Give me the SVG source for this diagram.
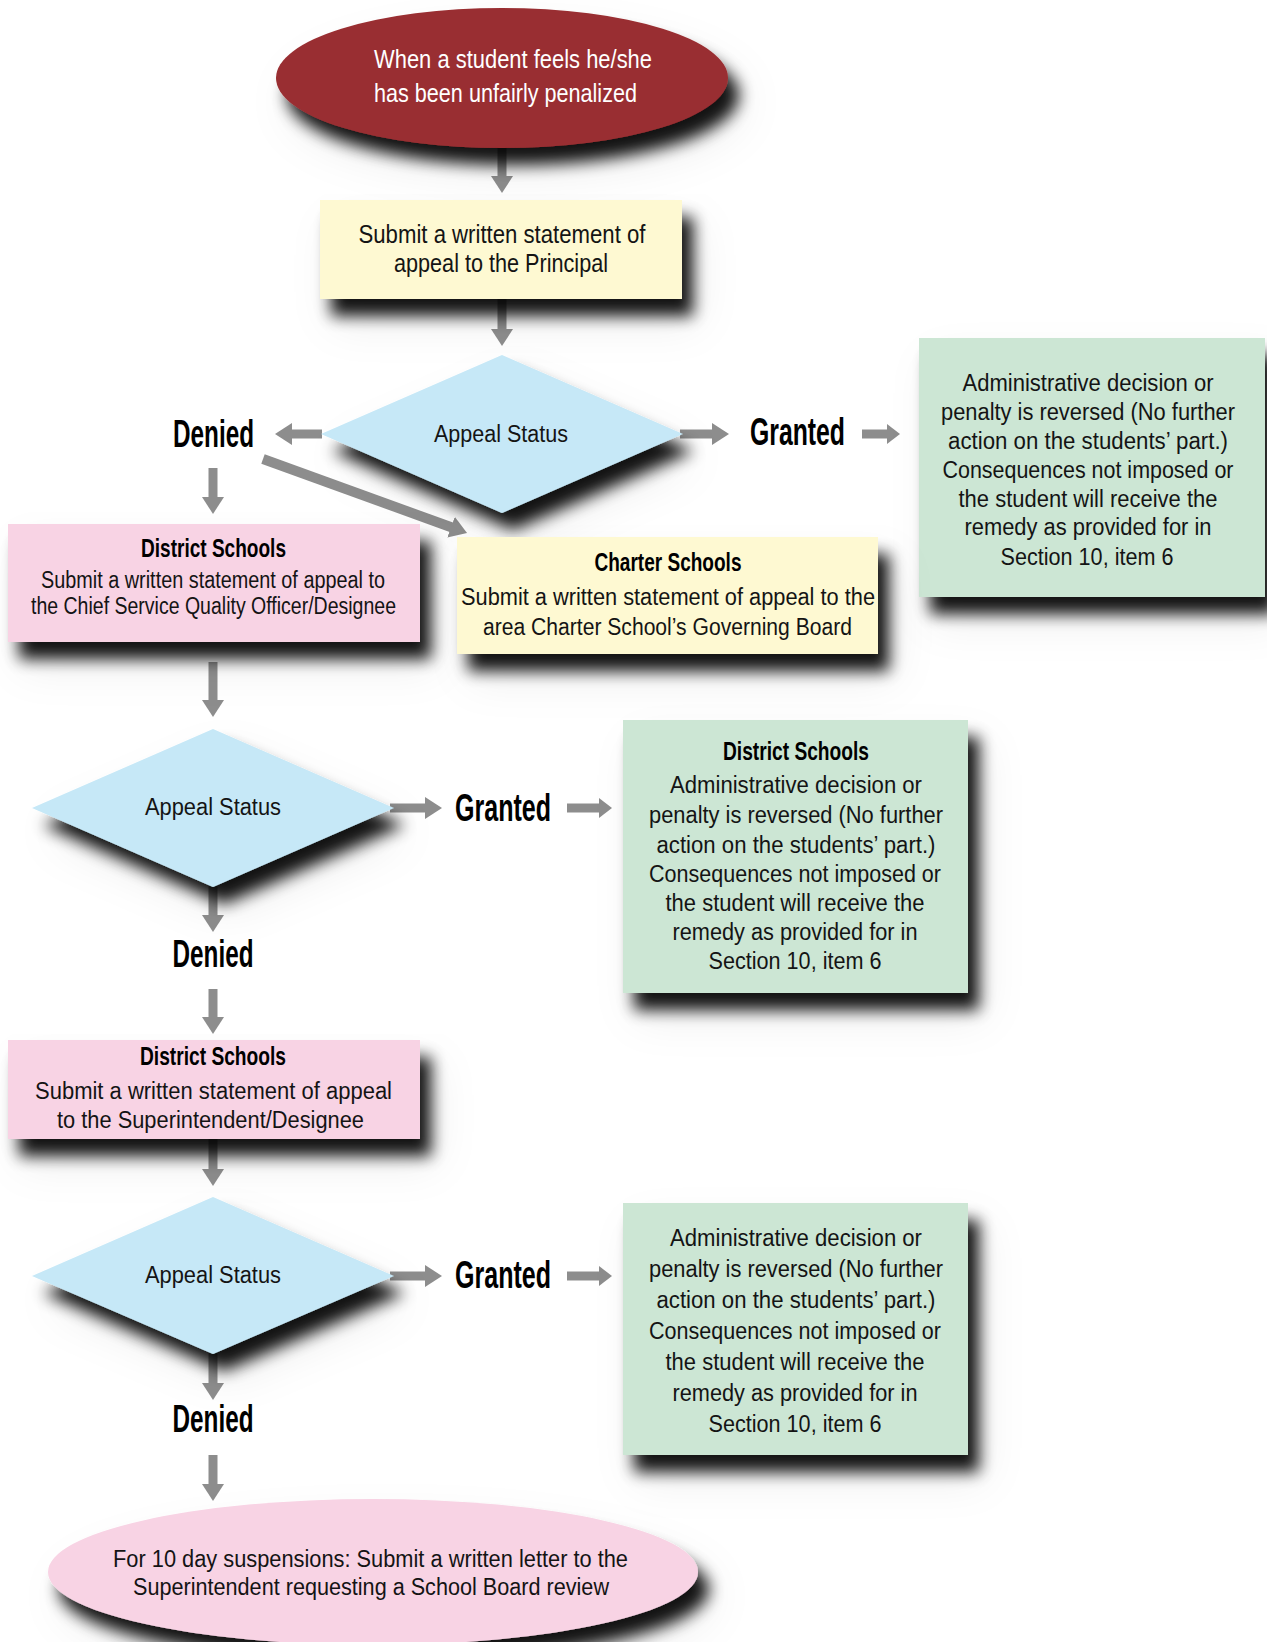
<svg xmlns="http://www.w3.org/2000/svg" width="1267" height="1642" viewBox="0 0 1267 1642">
  <defs>
    <!-- heavy lower-right drop shadow plus a faint wide haze -->
    <filter id="shadow" x="-20%" y="-30%" width="150%" height="200%">
      <feGaussianBlur in="SourceAlpha" stdDeviation="8" result="b"/>
      <feOffset in="b" dx="11" dy="17" result="o"/>
      <feFlood flood-color="#000" flood-opacity="0.92"/>
      <feComposite in2="o" operator="in" result="s"/>
      <feGaussianBlur in="SourceAlpha" stdDeviation="22" result="b2"/>
      <feOffset in="b2" dx="14" dy="24" result="o2"/>
      <feFlood flood-color="#000" flood-opacity="0.08"/>
      <feComposite in2="o2" operator="in" result="h"/>
      <feMerge>
        <feMergeNode in="h"/>
        <feMergeNode in="s"/>
        <feMergeNode in="SourceGraphic"/>
      </feMerge>
    </filter>
    <marker id="head" viewBox="0 0 17 22" markerWidth="17" markerHeight="22" refX="1" refY="11" orient="auto" markerUnits="userSpaceOnUse">
      <path d="M0,0 L17,11 L0,22 Z" fill="#8d8d8d"/>
    </marker>
    <marker id="headS" viewBox="0 0 13 20" markerWidth="13" markerHeight="20" refX="1" refY="10" orient="auto" markerUnits="userSpaceOnUse">
      <path d="M0,0 L13,10 L0,20 Z" fill="#8d8d8d"/>
    </marker>
  </defs>
  <style>
    .arrow { stroke: #8d8d8d; stroke-width: 9; fill: none; marker-end: url(#head); }
    .arrow.short { marker-end: url(#headS); }
    .txt { font-family: "Liberation Sans", Arial, sans-serif; font-size: 23px; fill: #141414; text-anchor: middle; }
    .big { font-size: 25px; }
    .white { fill: #ffffff; text-anchor: start; }
    .head { font-family: "Liberation Sans", Arial, sans-serif; font-weight: bold; font-size: 25px; fill: #000; text-anchor: middle; }
    .label { font-family: "Liberation Sans", Arial, sans-serif; font-weight: 900; font-size: 39px; fill: #000; text-anchor: middle; }
    .red { fill: #992e31; }
    .yellow { fill: #fef9d2; }
    .blue { fill: #c6e8f7; }
    .pink { fill: #f8d3e4; }
    .green { fill: #cce6d4; }
  </style>

  <rect width="1267" height="1642" fill="#ffffff"/>

  <g id="connectors">
    <line class="arrow" x1="502" y1="140" x2="502" y2="177"/>
    <line class="arrow" x1="502" y1="295" x2="502" y2="330"/>
    <line class="arrow" x1="322" y1="434" x2="291" y2="434"/>
    <line class="arrow" x1="680" y1="434" x2="713" y2="434"/>
    <line class="arrow short" x1="862" y1="434" x2="888" y2="434"/>
    <line class="arrow" x1="263" y1="459" x2="452" y2="527.5" style="stroke-width:10"/>
    <line class="arrow" x1="213" y1="468" x2="213" y2="498"/>
    <line class="arrow" x1="213" y1="662" x2="213" y2="701"/>
    <line class="arrow" x1="390" y1="808" x2="426" y2="808"/>
    <line class="arrow short" x1="567" y1="808" x2="600" y2="808"/>
    <line class="arrow" x1="213" y1="880" x2="213" y2="916"/>
    <line class="arrow" x1="213" y1="989" x2="213" y2="1018"/>
    <line class="arrow" x1="213" y1="1135" x2="213" y2="1170"/>
    <line class="arrow" x1="390" y1="1276" x2="426" y2="1276"/>
    <line class="arrow short" x1="567" y1="1276" x2="600" y2="1276"/>
    <line class="arrow" x1="213" y1="1350" x2="213" y2="1384"/>
    <line class="arrow" x1="213" y1="1455" x2="213" y2="1485"/>
  </g>

  <g id="start">
    <ellipse class="red" cx="502" cy="78" rx="226" ry="70" filter="url(#shadow)"/>
    <text class="txt big white" x="374" y="68" textLength="278" lengthAdjust="spacingAndGlyphs">When a student feels he/she</text>
    <text class="txt big white" x="374" y="102" textLength="263" lengthAdjust="spacingAndGlyphs">has been unfairly penalized</text>
  </g>

  <g id="principal">
    <rect class="yellow" x="320" y="200" width="362" height="99" filter="url(#shadow)"/>
    <text class="txt big" x="502" y="243" textLength="287" lengthAdjust="spacingAndGlyphs">Submit a written statement of</text>
    <text class="txt big" x="501" y="272" textLength="214" lengthAdjust="spacingAndGlyphs">appeal to the Principal</text>
  </g>

  <g id="status1">
    <polygon class="blue" points="502,355 683,434 502,513 321,434" filter="url(#shadow)"/>
    <text class="txt" x="501" y="442" textLength="134" lengthAdjust="spacingAndGlyphs">Appeal Status</text>
  </g>

  <g id="denied1">
    <text class="label" x="213.5" y="447" textLength="81" lengthAdjust="spacingAndGlyphs">Denied</text>
  </g>

  <g id="granted1">
    <text class="label" x="797.5" y="445" textLength="95" lengthAdjust="spacingAndGlyphs">Granted</text>
  </g>

  <g id="reversed1">
    <rect class="green" x="919" y="338" width="346" height="259" filter="url(#shadow)"/>
    <text class="txt" x="1088" y="391" textLength="251" lengthAdjust="spacingAndGlyphs">Administrative decision or</text>
    <text class="txt" x="1088" y="420" textLength="294" lengthAdjust="spacingAndGlyphs">penalty is reversed (No further</text>
    <text class="txt" x="1088" y="449" textLength="280" lengthAdjust="spacingAndGlyphs">action on the students’ part.)</text>
    <text class="txt" x="1088" y="478" textLength="291" lengthAdjust="spacingAndGlyphs">Consequences not imposed or</text>
    <text class="txt" x="1088" y="507" textLength="259" lengthAdjust="spacingAndGlyphs">the student will receive the</text>
    <text class="txt" x="1088" y="535" textLength="247" lengthAdjust="spacingAndGlyphs">remedy as provided for in</text>
    <text class="txt" x="1087" y="565" textLength="173" lengthAdjust="spacingAndGlyphs">Section 10, item 6</text>
  </g>

  <g id="district-cso">
    <rect class="pink" x="8" y="524" width="412" height="118" filter="url(#shadow)"/>
    <text class="head" x="213.5" y="557" textLength="145" lengthAdjust="spacingAndGlyphs">District Schools</text>
    <text class="txt" x="213" y="588" textLength="344" lengthAdjust="spacingAndGlyphs">Submit a written statement of appeal to</text>
    <text class="txt" x="213.5" y="614" textLength="365" lengthAdjust="spacingAndGlyphs">the Chief Service Quality Officer/Designee</text>
  </g>

  <g id="charter">
    <rect class="yellow" x="457" y="537" width="421" height="117" filter="url(#shadow)"/>
    <text class="head" x="668" y="571" textLength="147" lengthAdjust="spacingAndGlyphs">Charter Schools</text>
    <text class="txt" x="668" y="605" textLength="414" lengthAdjust="spacingAndGlyphs">Submit a written statement of appeal to the</text>
    <text class="txt" x="667.5" y="635" textLength="369" lengthAdjust="spacingAndGlyphs">area Charter School’s Governing Board</text>
  </g>

  <g id="status2">
    <polygon class="blue" points="213,729 394,808 213,887 32,808" filter="url(#shadow)"/>
    <text class="txt" x="213" y="815" textLength="136" lengthAdjust="spacingAndGlyphs">Appeal Status</text>
  </g>

  <g id="granted2">
    <text class="label" x="503" y="821" textLength="96" lengthAdjust="spacingAndGlyphs">Granted</text>
  </g>

  <g id="reversed2">
    <rect class="green" x="623" y="720" width="345" height="273" filter="url(#shadow)"/>
    <text class="head" x="796" y="760" textLength="146" lengthAdjust="spacingAndGlyphs">District Schools</text>
    <text class="txt" x="796" y="793" textLength="252" lengthAdjust="spacingAndGlyphs">Administrative decision or</text>
    <text class="txt" x="796" y="823" textLength="294" lengthAdjust="spacingAndGlyphs">penalty is reversed (No further</text>
    <text class="txt" x="796" y="853" textLength="279" lengthAdjust="spacingAndGlyphs">action on the students’ part.)</text>
    <text class="txt" x="795" y="882" textLength="292" lengthAdjust="spacingAndGlyphs">Consequences not imposed or</text>
    <text class="txt" x="795" y="911" textLength="259" lengthAdjust="spacingAndGlyphs">the student will receive the</text>
    <text class="txt" x="795" y="940" textLength="245" lengthAdjust="spacingAndGlyphs">remedy as provided for in</text>
    <text class="txt" x="795" y="969" textLength="173" lengthAdjust="spacingAndGlyphs">Section 10, item 6</text>
  </g>

  <g id="denied2">
    <text class="label" x="213" y="967" textLength="81" lengthAdjust="spacingAndGlyphs">Denied</text>
  </g>

  <g id="district-superintendent">
    <rect class="pink" x="8" y="1040" width="412" height="99" filter="url(#shadow)"/>
    <text class="head" x="213" y="1065" textLength="146" lengthAdjust="spacingAndGlyphs">District Schools</text>
    <text class="txt" x="213.5" y="1099" textLength="357" lengthAdjust="spacingAndGlyphs">Submit a written statement of appeal</text>
    <text class="txt" x="210.5" y="1128" textLength="307" lengthAdjust="spacingAndGlyphs">to the Superintendent/Designee</text>
  </g>

  <g id="status3">
    <polygon class="blue" points="213,1197 394,1276 213,1354 32,1276" filter="url(#shadow)"/>
    <text class="txt" x="213" y="1283" textLength="136" lengthAdjust="spacingAndGlyphs">Appeal Status</text>
  </g>

  <g id="granted3">
    <text class="label" x="503" y="1288" textLength="96" lengthAdjust="spacingAndGlyphs">Granted</text>
  </g>

  <g id="reversed3">
    <rect class="green" x="623" y="1203" width="345" height="252" filter="url(#shadow)"/>
    <text class="txt" x="796" y="1246" textLength="252" lengthAdjust="spacingAndGlyphs">Administrative decision or</text>
    <text class="txt" x="796" y="1277" textLength="294" lengthAdjust="spacingAndGlyphs">penalty is reversed (No further</text>
    <text class="txt" x="796" y="1308" textLength="279" lengthAdjust="spacingAndGlyphs">action on the students’ part.)</text>
    <text class="txt" x="795" y="1339" textLength="292" lengthAdjust="spacingAndGlyphs">Consequences not imposed or</text>
    <text class="txt" x="795" y="1370" textLength="259" lengthAdjust="spacingAndGlyphs">the student will receive the</text>
    <text class="txt" x="795" y="1401" textLength="245" lengthAdjust="spacingAndGlyphs">remedy as provided for in</text>
    <text class="txt" x="795" y="1432" textLength="173" lengthAdjust="spacingAndGlyphs">Section 10, item 6</text>
  </g>

  <g id="denied3">
    <text class="label" x="213" y="1432" textLength="81" lengthAdjust="spacingAndGlyphs">Denied</text>
  </g>

  <g id="board-review">
    <ellipse class="pink" cx="373" cy="1572" rx="325" ry="73" filter="url(#shadow)"/>
    <text class="txt" x="370.5" y="1567" textLength="515" lengthAdjust="spacingAndGlyphs">For 10 day suspensions: Submit a written letter to the</text>
    <text class="txt" x="371" y="1595" textLength="476" lengthAdjust="spacingAndGlyphs">Superintendent requesting a School Board review</text>
  </g>
</svg>
